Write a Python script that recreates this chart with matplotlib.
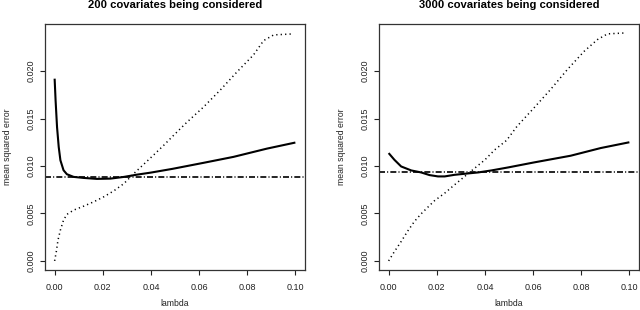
import numpy as np
import matplotlib
matplotlib.use("Agg")
import matplotlib.pyplot as plt

plt.rcParams['font.family'] = ['Liberation Sans', 'DejaVu Sans']

# 200 covariates
lam_solid_200 = [0, 0.0004, 0.001, 0.0017, 0.0024, 0.0037, 0.0051, 0.0079, 0.0121, 0.0176,
                 0.0232, 0.0288, 0.0343, 0.0399, 0.0490, 0.0618, 0.0743, 0.0882, 0.1]
mse_solid_200 = [0.0192, 0.0169, 0.0141, 0.0120, 0.0106, 0.00955, 0.00913, 0.00885, 0.00874, 0.00864,
                 0.00867, 0.00885, 0.00909, 0.0093, 0.00970, 0.01033, 0.01096, 0.01183, 0.01247]
lam_dot_200 = [0, 0.0007, 0.0014, 0.0024, 0.0037, 0.0051, 0.0079, 0.0121, 0.0162, 0.0204,
               0.0246, 0.0288, 0.0329, 0.0371, 0.0413, 0.0454, 0.0489, 0.0549, 0.0618, 0.0688,
               0.0757, 0.0826, 0.0868, 0.0910, 0.0993]
mse_dot_200 = [0, 0.00098, 0.0022, 0.00325, 0.0043, 0.0049, 0.00535, 0.00577, 0.00622, 0.00675,
               0.00738, 0.00815, 0.0092, 0.0102, 0.0112, 0.0122, 0.0131, 0.0146, 0.0162, 0.0180,
               0.0199, 0.0217, 0.02321, 0.02381, 0.02392]
ref_200 = 0.00886

# 3000 covariates
lam_solid_3000 = [0, 0.0024, 0.0052, 0.0094, 0.0135, 0.017, 0.0205, 0.0233, 0.0274, 0.0316,
                  0.0372, 0.0427, 0.0497, 0.0603, 0.0756, 0.0881, 0.1]
mse_solid_3000 = [0.01136, 0.01065, 0.00995, 0.00953, 0.00932, 0.00904, 0.0089, 0.0089, 0.00907, 0.00918,
                  0.00932, 0.00953, 0.00985, 0.01037, 0.01108, 0.01189, 0.01250]
lam_dot_3000 = [0, 0.0024, 0.0052, 0.0080, 0.0107, 0.0135, 0.0163, 0.019, 0.0233, 0.0274,
                0.0316, 0.0358, 0.0400, 0.0441, 0.0490, 0.0533, 0.0603, 0.0672, 0.0742, 0.0812,
                0.0867, 0.0909, 0.0985]
mse_dot_3000 = [0, 0.00098, 0.00204, 0.00317, 0.00415, 0.00496, 0.00566, 0.00633, 0.00714, 0.00802,
                0.0089, 0.00978, 0.01065, 0.01171, 0.01270, 0.01417, 0.0161, 0.01804, 0.02015, 0.02208,
                0.02331, 0.02392, 0.02402]
ref_3000 = 0.00937

titles = ['200 covariates being considered', '3000 covariates being considered']
xticks = [0, 0.02, 0.04, 0.06, 0.08, 0.10]
xticklabels = ['0.00', '0.02', '0.04', '0.06', '0.08', '0.10']
yticks = [0, 0.005, 0.010, 0.015, 0.020]
yticklabels = ['0.000', '0.005', '0.010', '0.015', '0.020']

panels = [
    (lam_solid_200, mse_solid_200, lam_dot_200, mse_dot_200, ref_200),
    (lam_solid_3000, mse_solid_3000, lam_dot_3000, mse_dot_3000, ref_3000),
]

fig = plt.figure(figsize=(6.4, 3.1), dpi=100)
boxes = [[45/640, 40/310, 260/640, 246/310], [379/640, 40/310, 260/640, 246/310]]

for i, (xs, ys, xd, yd, ref) in enumerate(panels):
    ax = fig.add_axes(boxes[i])
    ax.plot(xs, ys, color='black', lw=1.5, solid_capstyle='butt')
    ax.plot(xd, yd, color='black', lw=1.1, linestyle=(0, (0.8, 2.1)))
    ax.axhline(ref, color='black', lw=1.2, linestyle=(0, (3.6, 1.3, 0.6, 1.3)))
    ax.set_xlim(-0.004, 0.104)
    ax.set_ylim(-0.00096, 0.02496)
    ax.set_xticks(xticks)
    ax.set_xticklabels(xticklabels)
    ax.set_yticks(yticks)
    ax.set_yticklabels(yticklabels, rotation=90, va='center')
    ax.tick_params(direction='out', length=3.6, width=0.8, labelsize=6.5, colors='#222222')
    ax.tick_params(axis='x', pad=5.5)
    ax.tick_params(axis='y', pad=3.5)
    for s in ax.spines.values():
        s.set_linewidth(0.9)
        s.set_color('#333333')
    ax.set_xlabel('lambda', fontsize=6.2, color='#222222')
    ax.xaxis.set_label_coords(0.5, -0.138)
    ax.xaxis.label.set_va('center')
    ax.set_ylabel('mean squared error', fontsize=6.2, color='#222222')
    ax.yaxis.set_label_coords(-0.145, 0.5)
    ax.yaxis.label.set_va('center')
    fig.text(boxes[i][0] + boxes[i][2] / 2, 1 - 5/310, titles[i], ha='center', va='center',
             fontsize=8.1, fontweight='bold')

fig.savefig('out.png', dpi=100)
